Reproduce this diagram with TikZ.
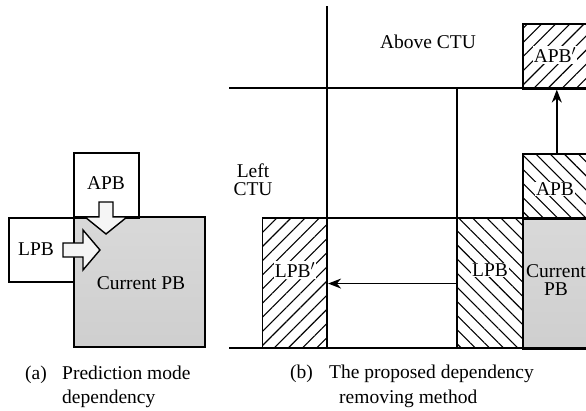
\documentclass[tikz,border=0pt]{standalone}
\usepackage{fontspec}
\setmainfont{Liberation Serif}
\usetikzlibrary{arrows.meta,patterns.meta}
\tikzset{
  pbox/.style={draw, line width=1.6pt, rectangle, inner sep=0pt, anchor=north west},
  curpb/.style={pbox, top color=gray!30, bottom color=gray!38},
  hatchne/.style={pbox, pattern={Lines[angle=45,distance=10pt,line width=1.1pt]}},
  hatchnw/.style={pbox, pattern={Lines[angle=-45,distance=10pt,line width=1.1pt]}},
  lbl/.style={inner sep=1pt, font=\fontsize{19.5}{20}\selectfont},
  hlbl/.style={lbl, fill=white},
  captext/.style={inner sep=0pt, anchor=base west, font=\fontsize{19.5}{20}\selectfont},
  blockarrow/.style={draw, line width=1.4pt, fill=gray!8, line join=miter},
  ctuline/.style={line width=1.6pt},
  depend/.style={line width=1.6pt, -{Stealth[length=13pt,width=10pt]}}
}
\begin{document}
\begin{tikzpicture}[x=1pt,y=-1pt]
  \useasboundingbox (0,0) rectangle (586,410);
  \clip (0,0) rectangle (586,410);
  % (a) prediction mode dependency
  \node[curpb, minimum width=131pt, minimum height=130pt] (cur) at (73,216) {};
  \node[pbox, minimum width=65pt, minimum height=64pt] (lpb) at (8,217) {};
  \node[pbox, minimum width=65pt, minimum height=65pt] (apb) at (73,152) {};
  \node[lbl] (apbtext) at (106,183) {APB};
  \node[lbl] (lpbtext) at (36,249) {LPB};
  \node[lbl] (curtext) at (141,283) {Current PB};
  \draw[blockarrow] (99,202) -- (113,202) -- (113,217) -- (127,217) -- (106,234)
    -- (85,217) -- (99,217) -- cycle;
  \draw[blockarrow] (63,243) -- (83,243) -- (83,230) -- (100,250) -- (83,270)
    -- (83,257) -- (63,257) -- cycle;
  % (b) proposed dependency removing method
  \node[hatchne, minimum width=65pt, minimum height=130pt] (lpbp) at (262,218) {};
  \node[hatchnw, minimum width=65pt, minimum height=130pt] (lpbb) at (457,218) {};
  \node[curpb, minimum width=68pt, minimum height=130pt] (curb) at (522,218) {};
  \node[hatchnw, minimum width=68pt, minimum height=65pt] (apbb) at (522,153) {};
  \node[hatchne, minimum width=68pt, minimum height=65pt] (apbp) at (522,23) {};
  \draw[ctuline] (327,6) -- (327,348);
  \draw[ctuline] (229,88) -- (586,88);
  \draw[ctuline] (457,88) -- (457,348);
  \draw[ctuline] (262,218) -- (586,218);
  \draw[ctuline] (229,348) -- (586,348);
  \draw[depend] (lpbb.west) -- (lpbp.east);
  \draw[depend] (apbb.north) -- (apbp.south);
  \node[lbl] (above) at (428,42) {Above CTU};
  \node[lbl, align=center] (left) at (253,180) {Left\\[-2pt]CTU};
  \node[hlbl] (lpbptext) at (295,270) {LPB$'$};
  \node[hlbl] (lpbbtext) at (490,270) {LPB};
  \node[hlbl] (apbbtext) at (555,189) {APB};
  \node[hlbl] (apbptext) at (555,55) {APB$'$};
  \node[lbl, align=center] (curbtext) at (556,280) {Current\\[-2pt]PB};
  % captions
  \node[captext] (capa) at (25,379) {(a)};
  \node[captext] (capatext) at (62,379) {Prediction mode};
  \node[captext] (capatext2) at (62,403) {dependency};
  \node[captext] (capb) at (290,378) {(b)};
  \node[captext] (capbtext) at (329,378) {The proposed dependency};
  \node[captext] (capbtext2) at (339,403) {removing method};
\end{tikzpicture}
\end{document}
